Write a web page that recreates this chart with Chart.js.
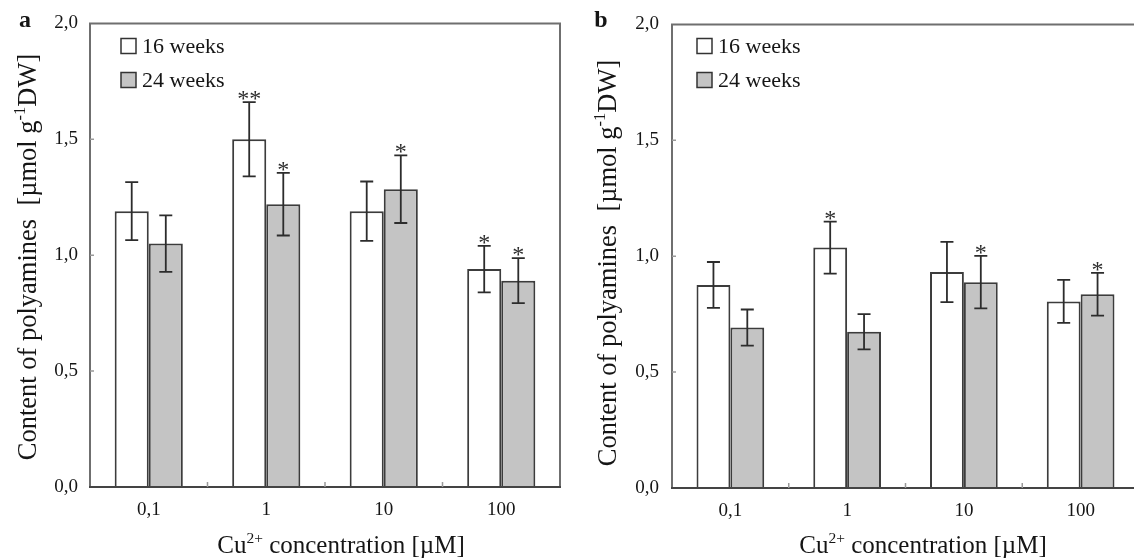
<!DOCTYPE html>
<html>
<head>
<meta charset="utf-8">
<script src="https://cdn.jsdelivr.net/npm/chart.js@4.4.1/dist/chart.umd.min.js"></script>
<style>
  html, body { margin: 0; padding: 0; background: #fff; overflow: hidden; width: 1134px; height: 558px; }
  #wrapA { position: absolute; left: 0; top: 0; }
  #wrapB { position: absolute; left: 570px; top: 0; }
</style>
</head>
<body>
<div id="wrapA"><canvas id="chartA" width="570" height="558"></canvas></div>
<div id="wrapB"><canvas id="chartB" width="580" height="558"></canvas></div>
<script>
// Cu2+ concentration groups
var categories = ["0,1", "1", "10", "100"];
var seriesNames = ["16 weeks", "24 weeks"];

// panel a
var weeks16A = [1.19, 1.50, 1.19, 0.94];
var err16A = [0.125, 0.16, 0.128, 0.10];
var stars16A = ["", "**", "", "*"];
var weeks24A = [1.05, 1.22, 1.285, 0.89];
var err24A = [0.122, 0.135, 0.146, 0.097];
var stars24A = ["", "*", "*", "*"];

// panel b
var weeks16B = [0.876, 1.037, 0.932, 0.805];
var err16B = [0.099, 0.112, 0.13, 0.093];
var stars16B = ["", "*", "", ""];
var weeks24B = [0.692, 0.674, 0.888, 0.836];
var err24B = [0.078, 0.076, 0.113, 0.092];
var stars24B = ["", "", "*", "*"];

var yMin = 0, yMax = 2, yStep = 0.5;

var serif = '"Liberation Serif", "Times New Roman", serif';
var ink = "#151515";
var fills = ["#ffffff", "#c4c4c4"];

// text with superscript parts, centred on (cx, cy)
function drawRich(ctx, parts, size, cx, cy) {
  var supSize = size * 0.62;
  var w = 0;
  parts.forEach(function(p) {
    ctx.font = (p.sup ? supSize : size) + "px " + serif;
    w += ctx.measureText(p.t).width;
  });
  var x = cx - w / 2;
  var base = cy + size * 0.32;
  ctx.textAlign = "left";
  ctx.textBaseline = "alphabetic";
  parts.forEach(function(p) {
    ctx.font = (p.sup ? supSize : size) + "px " + serif;
    ctx.fillText(p.t, x, p.sup ? base - size * 0.42 : base);
    x += ctx.measureText(p.t).width;
  });
}

var panelDecor = {
  id: "panelDecor",
  afterDatasetsDraw: function(chart) {
    var ctx = chart.ctx, y = chart.scales.y;
    ctx.save();
    chart.data.datasets.forEach(function(ds, di) {
      var meta = chart.getDatasetMeta(di);
      meta.data.forEach(function(bar, i) {
        var v = ds.data[i], e = ds.errors[i];
        var top = y.getPixelForValue(v + e), bot = y.getPixelForValue(v - e);
        ctx.strokeStyle = "#2c2c2c";
        ctx.lineWidth = 1.8;
        ctx.beginPath();
        ctx.moveTo(bar.x, top); ctx.lineTo(bar.x, bot);
        ctx.moveTo(bar.x - 6.5, top); ctx.lineTo(bar.x + 6.5, top);
        ctx.moveTo(bar.x - 6.5, bot); ctx.lineTo(bar.x + 6.5, bot);
        ctx.stroke();
        if (ds.stars[i]) {
          ctx.fillStyle = "#2c2c2c";
          ctx.font = "24px " + serif;
          ctx.textAlign = "center";
          ctx.textBaseline = "alphabetic";
          ctx.fillText(ds.stars[i], bar.x, top + 4);
        }
      });
    });
    ctx.restore();
  },
  afterDraw: function(chart, args, o) {
    var ctx = chart.ctx, a = chart.chartArea, x = chart.scales.x, y = chart.scales.y;
    ctx.save();
    // frame
    ctx.strokeStyle = "#6f6f6f";
    ctx.lineWidth = 2;
    ctx.beginPath();
    ctx.moveTo(a.left, a.bottom); ctx.lineTo(a.left, a.top);
    ctx.lineTo(a.right, a.top); ctx.lineTo(a.right, a.bottom);
    ctx.stroke();
    ctx.strokeStyle = "#444";
    ctx.beginPath();
    ctx.moveTo(a.left - 1, a.bottom); ctx.lineTo(a.right + 1, a.bottom);
    ctx.stroke();
    // inner tick marks
    ctx.strokeStyle = "#999";
    ctx.lineWidth = 1.5;
    ctx.beginPath();
    for (var v = yMin + yStep; v < yMax; v += yStep) {
      var py = y.getPixelForValue(v);
      ctx.moveTo(a.left, py); ctx.lineTo(a.left + 4, py);
    }
    for (var i = 0; i < categories.length - 1; i++) {
      var px = (x.getPixelForValue(i) + x.getPixelForValue(i + 1)) / 2;
      ctx.moveTo(px, a.bottom); ctx.lineTo(px, a.bottom - 5);
    }
    ctx.stroke();
    // legend
    chart.data.datasets.forEach(function(ds, di) {
      var cy = o.legendY + di * 34;
      ctx.fillStyle = ds.backgroundColor;
      ctx.fillRect(o.legendX, cy - 7.5, 15, 15);
      ctx.strokeStyle = "#333";
      ctx.lineWidth = 1.5;
      ctx.strokeRect(o.legendX, cy - 7.5, 15, 15);
      ctx.fillStyle = ink;
      ctx.font = "22px " + serif;
      ctx.textAlign = "left";
      ctx.textBaseline = "middle";
      ctx.fillText(ds.label, o.legendX + 21, cy + 1);
    });
    // axis titles
    ctx.fillStyle = ink;
    drawRich(ctx, [{t: "Cu"}, {t: "2+", sup: true}, {t: " concentration [\u00b5M]"}], 25, o.xTitleX, o.xTitleY);
    ctx.save();
    ctx.translate(o.yTitleX, o.yTitleY);
    ctx.rotate(-Math.PI / 2);
    drawRich(ctx, [{t: "Content of polyamines  [\u00b5mol g"}, {t: "-1", sup: true}, {t: "DW]"}], 26.5, 0, 0);
    ctx.restore();
    // panel letter
    ctx.font = "bold 24px " + serif;
    ctx.textAlign = "center";
    ctx.textBaseline = "middle";
    ctx.fillText(o.letter, o.letterX, o.letterY);
    ctx.restore();
  }
};

function makePanel(id, v16, e16, s16, v24, e24, s24, o) {
  return new Chart(id, {
    type: "bar",
    data: {
      labels: categories,
      datasets: [
        { label: seriesNames[0], data: v16, errors: e16, stars: s16, backgroundColor: fills[0] },
        { label: seriesNames[1], data: v24, errors: e24, stars: s24, backgroundColor: fills[1] }
      ].map(function(ds) {
        ds.borderColor = "#3c3c3c";
        ds.borderWidth = 2;
        ds.categoryPercentage = 0.58;
        ds.barPercentage = 1;
        return ds;
      })
    },
    options: {
      responsive: false,
      animation: false,
      layout: { padding: { top: o.top, right: o.right, left: 0, bottom: 0 } },
      plugins: { legend: { display: false }, tooltip: { enabled: false }, panelDecor: o },
      scales: {
        x: {
          grid: { display: false, drawTicks: false },
          border: { display: false },
          ticks: { padding: 12, color: ink, font: { family: serif, size: 19 } },
          afterFit: function(s) { s.height = o.axisBottom; }
        },
        y: {
          min: yMin,
          max: yMax,
          grid: { display: false, drawTicks: false },
          border: { display: false },
          ticks: {
            stepSize: yStep,
            padding: o.tickPad,
            color: ink,
            font: { family: serif, size: 19 },
            callback: function(v) { return v.toFixed(1).replace(".", ","); }
          },
          afterFit: function(s) { s.width = o.axisLeft; }
        }
      }
    },
    plugins: [panelDecor]
  });
}

makePanel("chartA", weeks16A, err16A, stars16A, weeks24A, err24A, stars24A, {
  top: 18, right: 10, axisLeft: 90, axisBottom: 71, tickPad: 12,
  legendX: 121, legendY: 46, xTitleX: 341, xTitleY: 545, yTitleX: 28, yTitleY: 257,
  letter: "a", letterX: 25, letterY: 21
});

makePanel("chartB", weeks16B, err16B, stars16B, weeks24B, err24B, stars24B, {
  top: 20, right: 11, axisLeft: 102, axisBottom: 70, tickPad: 13,
  legendX: 127, legendY: 46, xTitleX: 353, xTitleY: 545, yTitleX: 38, yTitleY: 263,
  letter: "b", letterX: 31, letterY: 21
});
</script>
</body>
</html>
